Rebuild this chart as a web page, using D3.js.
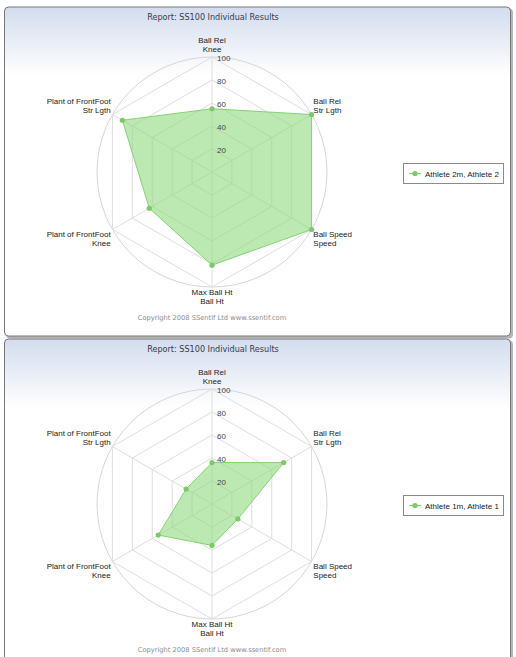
<!DOCTYPE html>
<html>
<head>
<meta charset="utf-8">
<script src="https://cdn.jsdelivr.net/npm/d3@7"></script>
<style>
  body { margin: 0; background: #fff; }
  svg { display: block; }
</style>
</head>
<body>
<div class="container"></div>
<script>
// axis labels (two lines each), clockwise from the top
const axisLabels = [
  ["Ball Rel", "Knee"],
  ["Ball Rel", "Str Lgth"],
  ["Ball Speed", "Speed"],
  ["Max Ball Ht", "Ball Ht"],
  ["Plant of FrontFoot", "Knee"],
  ["Plant of FrontFoot", "Str Lgth"]
];
const athlete2 = [55, 100, 100, 81, 63, 90];
const athlete1 = [36, 72, 26, 36, 54, 26];
const tickValues = [20, 40, 60, 80, 100];
const reportTitle = "Report: SS100 Individual Results";
const copyright = "Copyright 2008 SSentif Ltd www.ssentif.com";

const width = 516, height = 657;
const svg = d3.select(".container").append("svg")
  .attr("width", width)
  .attr("height", height);

const defs = svg.append("defs");
const grad = defs.append("linearGradient")
  .attr("id", "bg")
  .attr("x1", 0).attr("y1", 0).attr("x2", 0).attr("y2", 1);
grad.append("stop").attr("offset", "0%").attr("stop-color", "#d2ddee");
grad.append("stop").attr("offset", "21%").attr("stop-color", "#ffffff");
grad.append("stop").attr("offset", "100%").attr("stop-color", "#ffffff");

function drawPanel(top, values, seriesName) {
  const g = svg.append("g").attr("transform", `translate(0,${top})`);
  const cx = 212, cy = 165, R = 115;
  const n = axisLabels.length;

  // frame with shadow
  g.append("rect")
    .attr("x", 6).attr("y", 1.5).attr("width", 507).attr("height", 330)
    .attr("rx", 4).attr("fill", "#b5b5b5");
  g.append("rect")
    .attr("x", 4.5).attr("y", 0).attr("width", 506).attr("height", 329)
    .attr("rx", 4)
    .attr("fill", "url(#bg)")
    .attr("stroke", "#777");

  g.append("text")
    .attr("x", 213).attr("y", 12.5)
    .attr("text-anchor", "middle")
    .style("font-family", "'DejaVu Sans', Verdana, sans-serif")
    .style("font-size", "8.1px")
    .attr("fill", "#353a4c")
    .text(reportTitle);

  const rScale = d3.scaleLinear().domain([0, 100]).range([0, R]);
  const angle = i => i * 2 * Math.PI / n;
  const px = (i, v) => cx + rScale(v) * Math.sin(angle(i));
  const py = (i, v) => cy - rScale(v) * Math.cos(angle(i));

  const chart = g.append("g");

  // outer circle
  chart.append("circle")
    .attr("cx", cx).attr("cy", cy).attr("r", rScale(100))
    .attr("fill", "none").attr("stroke", "#d6d6d6");

  // hexagon grid
  const ring = d3.lineRadial()
    .angle((d, i) => angle(i))
    .radius(d => rScale(d))
    .curve(d3.curveLinearClosed);

  chart.selectAll("path.grid")
    .data(tickValues)
    .enter()
    .append("path")
    .attr("class", "grid")
    .attr("transform", `translate(${cx},${cy})`)
    .attr("d", t => ring(d3.range(n).map(() => t)))
    .attr("fill", "none")
    .attr("stroke", "#dedede");

  // spokes
  chart.selectAll("line.spoke")
    .data(d3.range(n))
    .enter()
    .append("line")
    .attr("class", "spoke")
    .attr("x1", cx).attr("y1", cy)
    .attr("x2", i => px(i, 100)).attr("y2", i => py(i, 100))
    .attr("stroke", "#dedede");

  // series area
  chart.append("path")
    .attr("transform", `translate(${cx},${cy})`)
    .attr("d", ring(values))
    .attr("fill", "#8fd97e")
    .attr("fill-opacity", 0.6)
    .attr("stroke", "#86d174")
    .attr("stroke-width", 1);

  chart.selectAll("circle.dot")
    .data(values)
    .enter()
    .append("circle")
    .attr("class", "dot")
    .attr("cx", (d, i) => px(i, d))
    .attr("cy", (d, i) => py(i, d))
    .attr("r", 2.6)
    .attr("fill", "#7cc96a");

  // tick labels
  chart.selectAll("text.tick")
    .data(tickValues)
    .enter()
    .append("text")
    .attr("class", "tick")
    .attr("x", cx + 5)
    .attr("y", t => cy - rScale(t) + 3.5)
    .style("font-family", "'Liberation Sans', Arial, sans-serif")
    .style("font-size", "8px")
    .attr("fill", "#444")
    .text(d => d);

  // axis labels
  axisLabels.forEach((lines, i) => {
    const s = Math.sin(angle(i)), c = Math.cos(angle(i));
    const x = cx + (R + 2) * s;
    const y = cy - (R + 2) * c;
    const anchor = s > 0.1 ? "start" : (s < -0.1 ? "end" : "middle");
    const lift = s > -0.1 && s < 0.1 ? 3 : 1;
    const firstBase = c > 0 ? y - lift - (lines.length - 1) * 9 : y + 6;
    const t = chart.append("text")
      .attr("text-anchor", anchor)
      .style("font-family", "'Liberation Sans', Arial, sans-serif")
      .style("font-size", "8px")
      .attr("fill", "#222");
    lines.forEach((line, k) => {
      t.append("tspan")
        .attr("x", x)
        .attr("y", firstBase + k * 9)
        .text(line);
    });
  });

  // legend
  const lg = g.append("g").attr("transform", `translate(403,${cy - 9})`);
  lg.append("rect")
    .attr("x", 0.5).attr("y", 0.5).attr("width", 100).attr("height", 20)
    .attr("fill", "#fff").attr("stroke", "#8a8a8a");
  lg.append("line")
    .attr("x1", 6).attr("x2", 18).attr("y1", 10.5).attr("y2", 10.5)
    .attr("stroke", "#86d174").attr("stroke-width", 1.2);
  lg.append("circle")
    .attr("cx", 12).attr("cy", 10.5).attr("r", 2.6).attr("fill", "#7cc96a");
  lg.append("text")
    .attr("x", 22).attr("y", 13.5)
    .style("font-family", "'Liberation Sans', Arial, sans-serif")
    .style("font-size", "8px")
    .attr("fill", "#222")
    .text(seriesName);

  g.append("text")
    .attr("x", 212).attr("y", 313)
    .attr("text-anchor", "middle")
    .style("font-family", "'DejaVu Sans', Verdana, sans-serif")
    .style("font-size", "6.7px")
    .attr("fill", "#8a8a8a")
    .text(copyright);
}

drawPanel(7, athlete2, "Athlete 2m, Athlete 2");
drawPanel(339, athlete1, "Athlete 1m, Athlete 1");
</script>
</body>
</html>
